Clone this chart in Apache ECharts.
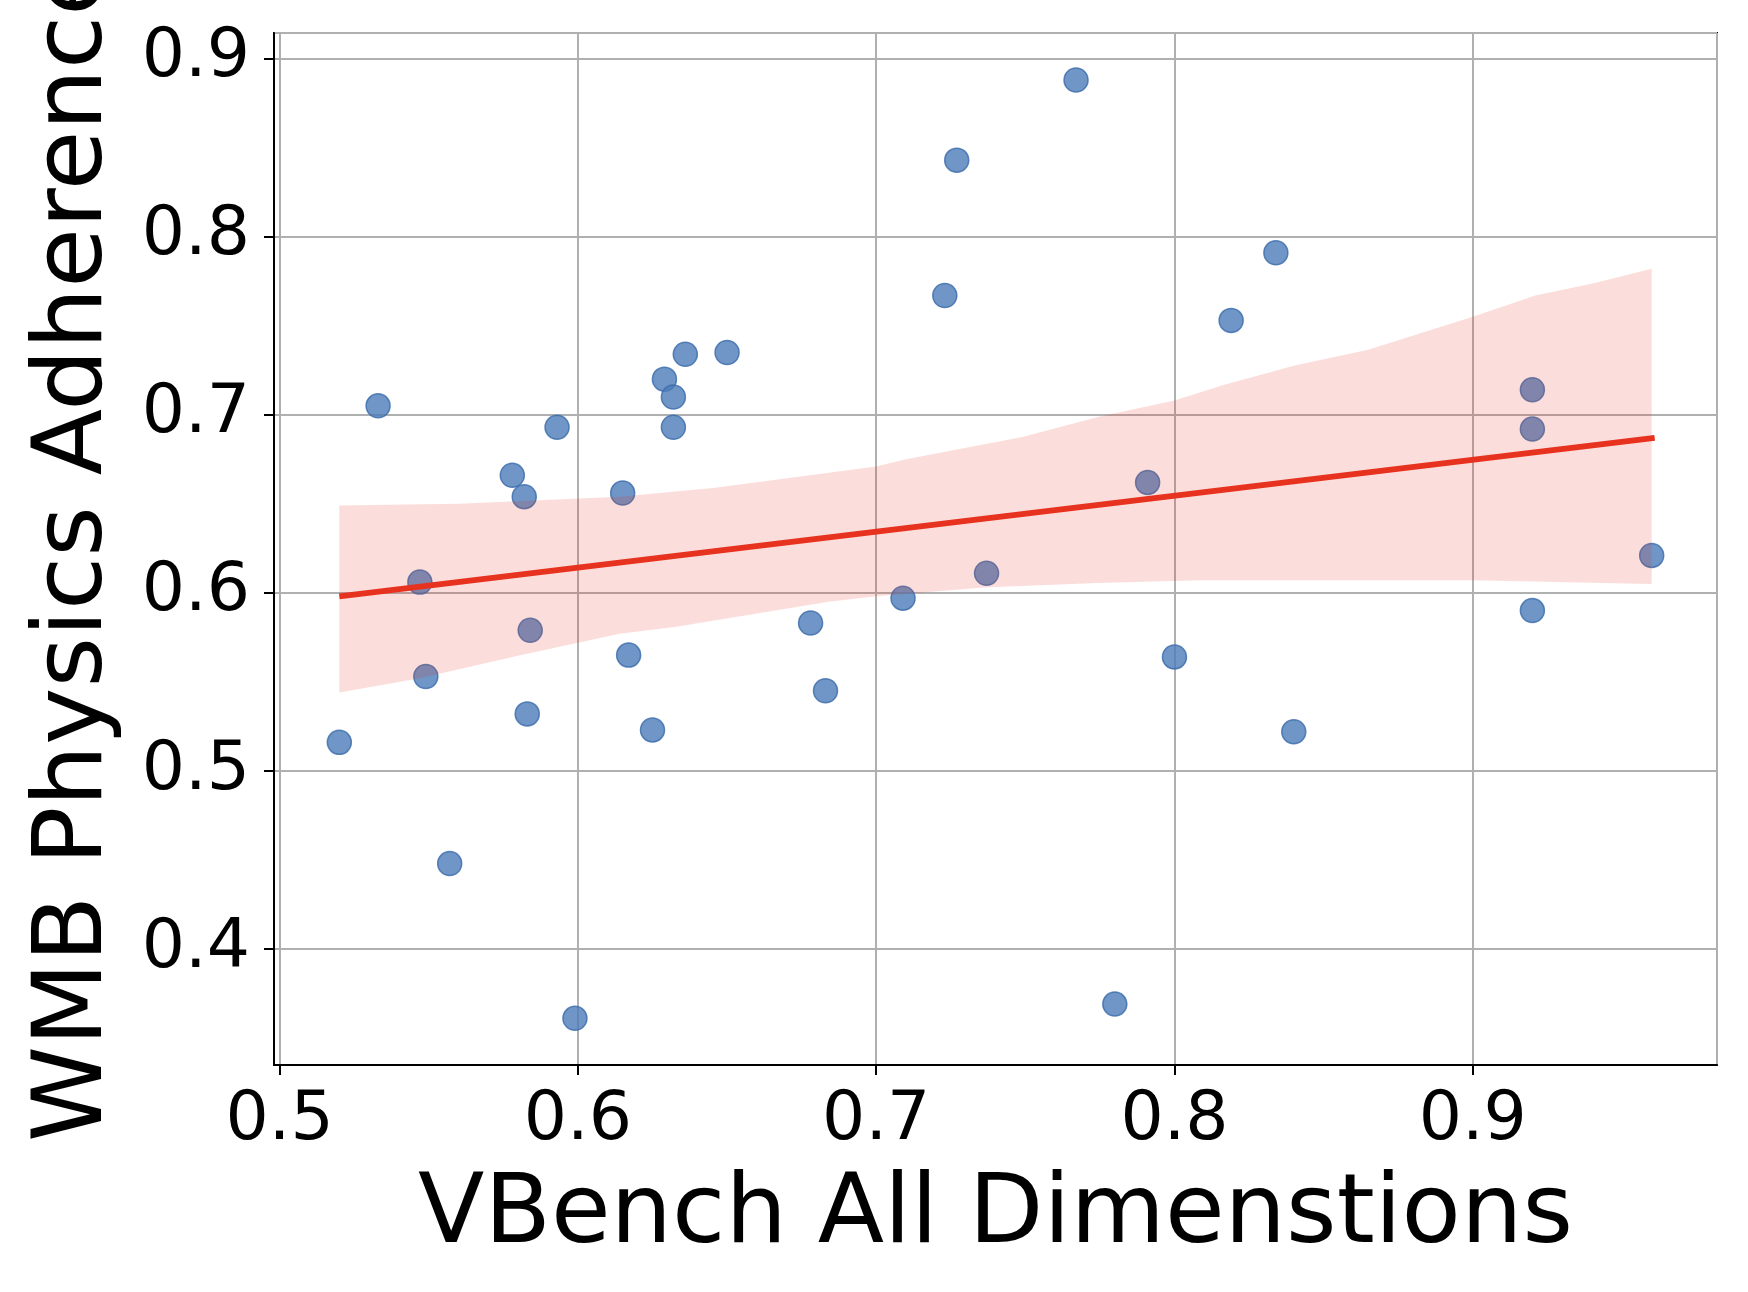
<!DOCTYPE html>
<html>
<head>
<meta charset="utf-8">
<script src="https://cdn.jsdelivr.net/npm/echarts@6/dist/echarts.min.js"></script>
<style>
  html, body { margin: 0; padding: 0; background: #fff; }
  #chart { width: 1748px; height: 1292px; }
</style>
</head>
<body>
<div id="chart"></div>
<script>
// scatter points
var xVals = [0.520, 0.533, 0.547, 0.549, 0.557, 0.578, 0.582, 0.584, 0.583, 0.593, 0.599, 0.615,
             0.617, 0.625, 0.629, 0.632, 0.632, 0.636, 0.650, 0.678, 0.683, 0.709, 0.723, 0.727,
             0.737, 0.767, 0.780, 0.791, 0.800, 0.819, 0.834, 0.840, 0.920, 0.920, 0.920, 0.960];
var yVals = [0.516, 0.705, 0.606, 0.553, 0.448, 0.666, 0.654, 0.579, 0.532, 0.693, 0.361, 0.656,
             0.565, 0.523, 0.720, 0.710, 0.693, 0.734, 0.735, 0.583, 0.545, 0.597, 0.767, 0.843,
             0.611, 0.888, 0.369, 0.662, 0.564, 0.753, 0.791, 0.522, 0.714, 0.692, 0.590, 0.621];

// regression line end points
var lineX = [0.520, 0.961];
var lineY = [0.598, 0.687];

// confidence band edges
var upperX = [0.520, 0.560, 0.614, 0.646, 0.700, 0.710, 0.749, 0.775, 0.800, 0.817, 0.841,
              0.865, 0.879, 0.900, 0.921, 0.941, 0.960];
var upperY = [0.649, 0.650, 0.654, 0.659, 0.671, 0.675, 0.6875, 0.699, 0.708, 0.717, 0.728,
              0.7365, 0.744, 0.755, 0.767, 0.774, 0.782];
var lowerX = [0.520, 0.547, 0.581, 0.614, 0.633, 0.684, 0.700, 0.736, 0.774, 0.809, 0.858, 0.900, 0.960];
var lowerY = [0.544, 0.552, 0.565, 0.577, 0.581, 0.595, 0.598, 0.603, 0.6055, 0.607, 0.607, 0.607, 0.605];

var xTitle = 'VBench All Dimenstions';
var yTitle = 'WMB Physics Adherence';

var font = 'DejaVu Sans';

var points = xVals.map(function (x, i) { return [x, yVals[i]]; });
var linePts = lineX.map(function (x, i) { return [x, lineY[i]]; });

var option = {
    animation: false,
    backgroundColor: '#ffffff',
    grid: {
        left: 274, right: 31, top: 33, bottom: 227,
        containLabel: false,
        outerBoundsMode: 'none',
        show: true,
        borderColor: '#000000',
        borderWidth: 2
    },
    xAxis: {
        type: 'value',
        min: 0.4981,
        max: 0.9819,
        splitNumber: 5,
        name: xTitle,
        nameLocation: 'middle',
        nameGap: 103,
        nameTextStyle: { fontFamily: font, fontSize: 97, color: '#000' },
        axisLine: { show: true, lineStyle: { color: '#000', width: 2 } },
        axisTick: { show: true, length: 10, lineStyle: { color: '#000', width: 2 } },
        axisLabel: {
            fontFamily: font, fontSize: 68, color: '#000', margin: 22,
            showMinLabel: false, showMaxLabel: false,
            formatter: function (v) { return v.toFixed(1); }
        },
        splitLine: { show: true, lineStyle: { color: '#b0b0b0', width: 2 } }
    },
    yAxis: {
        type: 'value',
        min: 0.3348,
        max: 0.9144,
        splitNumber: 6,
        name: yTitle,
        nameLocation: 'middle',
        nameGap: 150,
        nameTextStyle: { fontFamily: font, fontSize: 97, color: '#000' },
        axisLine: { show: true, lineStyle: { color: '#000', width: 2 } },
        axisTick: { show: true, length: 10, lineStyle: { color: '#000', width: 2 } },
        axisLabel: {
            fontFamily: font, fontSize: 68, color: '#000', margin: 24,
            showMinLabel: false, showMaxLabel: false,
            formatter: function (v) { return v.toFixed(1); }
        },
        splitLine: { show: true, lineStyle: { color: '#b0b0b0', width: 2 } }
    },
    series: [
        {
            type: 'scatter',
            data: points,
            symbolSize: 24,
            z: 2,
            itemStyle: { color: '#4b7cb8', borderColor: '#3a6aaa', borderWidth: 1.5 }
        },
        {
            type: 'custom',
            z: 3,
            silent: true,
            data: [[upperX[0], upperY[0]]],
            renderItem: function (params, api) {
                var pts = [];
                for (var i = 0; i < upperX.length; i++) {
                    pts.push(api.coord([upperX[i], upperY[i]]));
                }
                for (var j = lowerX.length - 1; j >= 0; j--) {
                    pts.push(api.coord([lowerX[j], lowerY[j]]));
                }
                return {
                    type: 'polygon',
                    shape: { points: pts },
                    style: { fill: 'rgba(232,52,28,0.16)' }
                };
            }
        },
        {
            type: 'line',
            data: linePts,
            z: 4,
            symbol: 'none',
            lineStyle: { color: '#e6321e', width: 6 }
        }
    ]
};

var chart = echarts.init(document.getElementById('chart'));
chart.setOption(option);
</script>
</body>
</html>
